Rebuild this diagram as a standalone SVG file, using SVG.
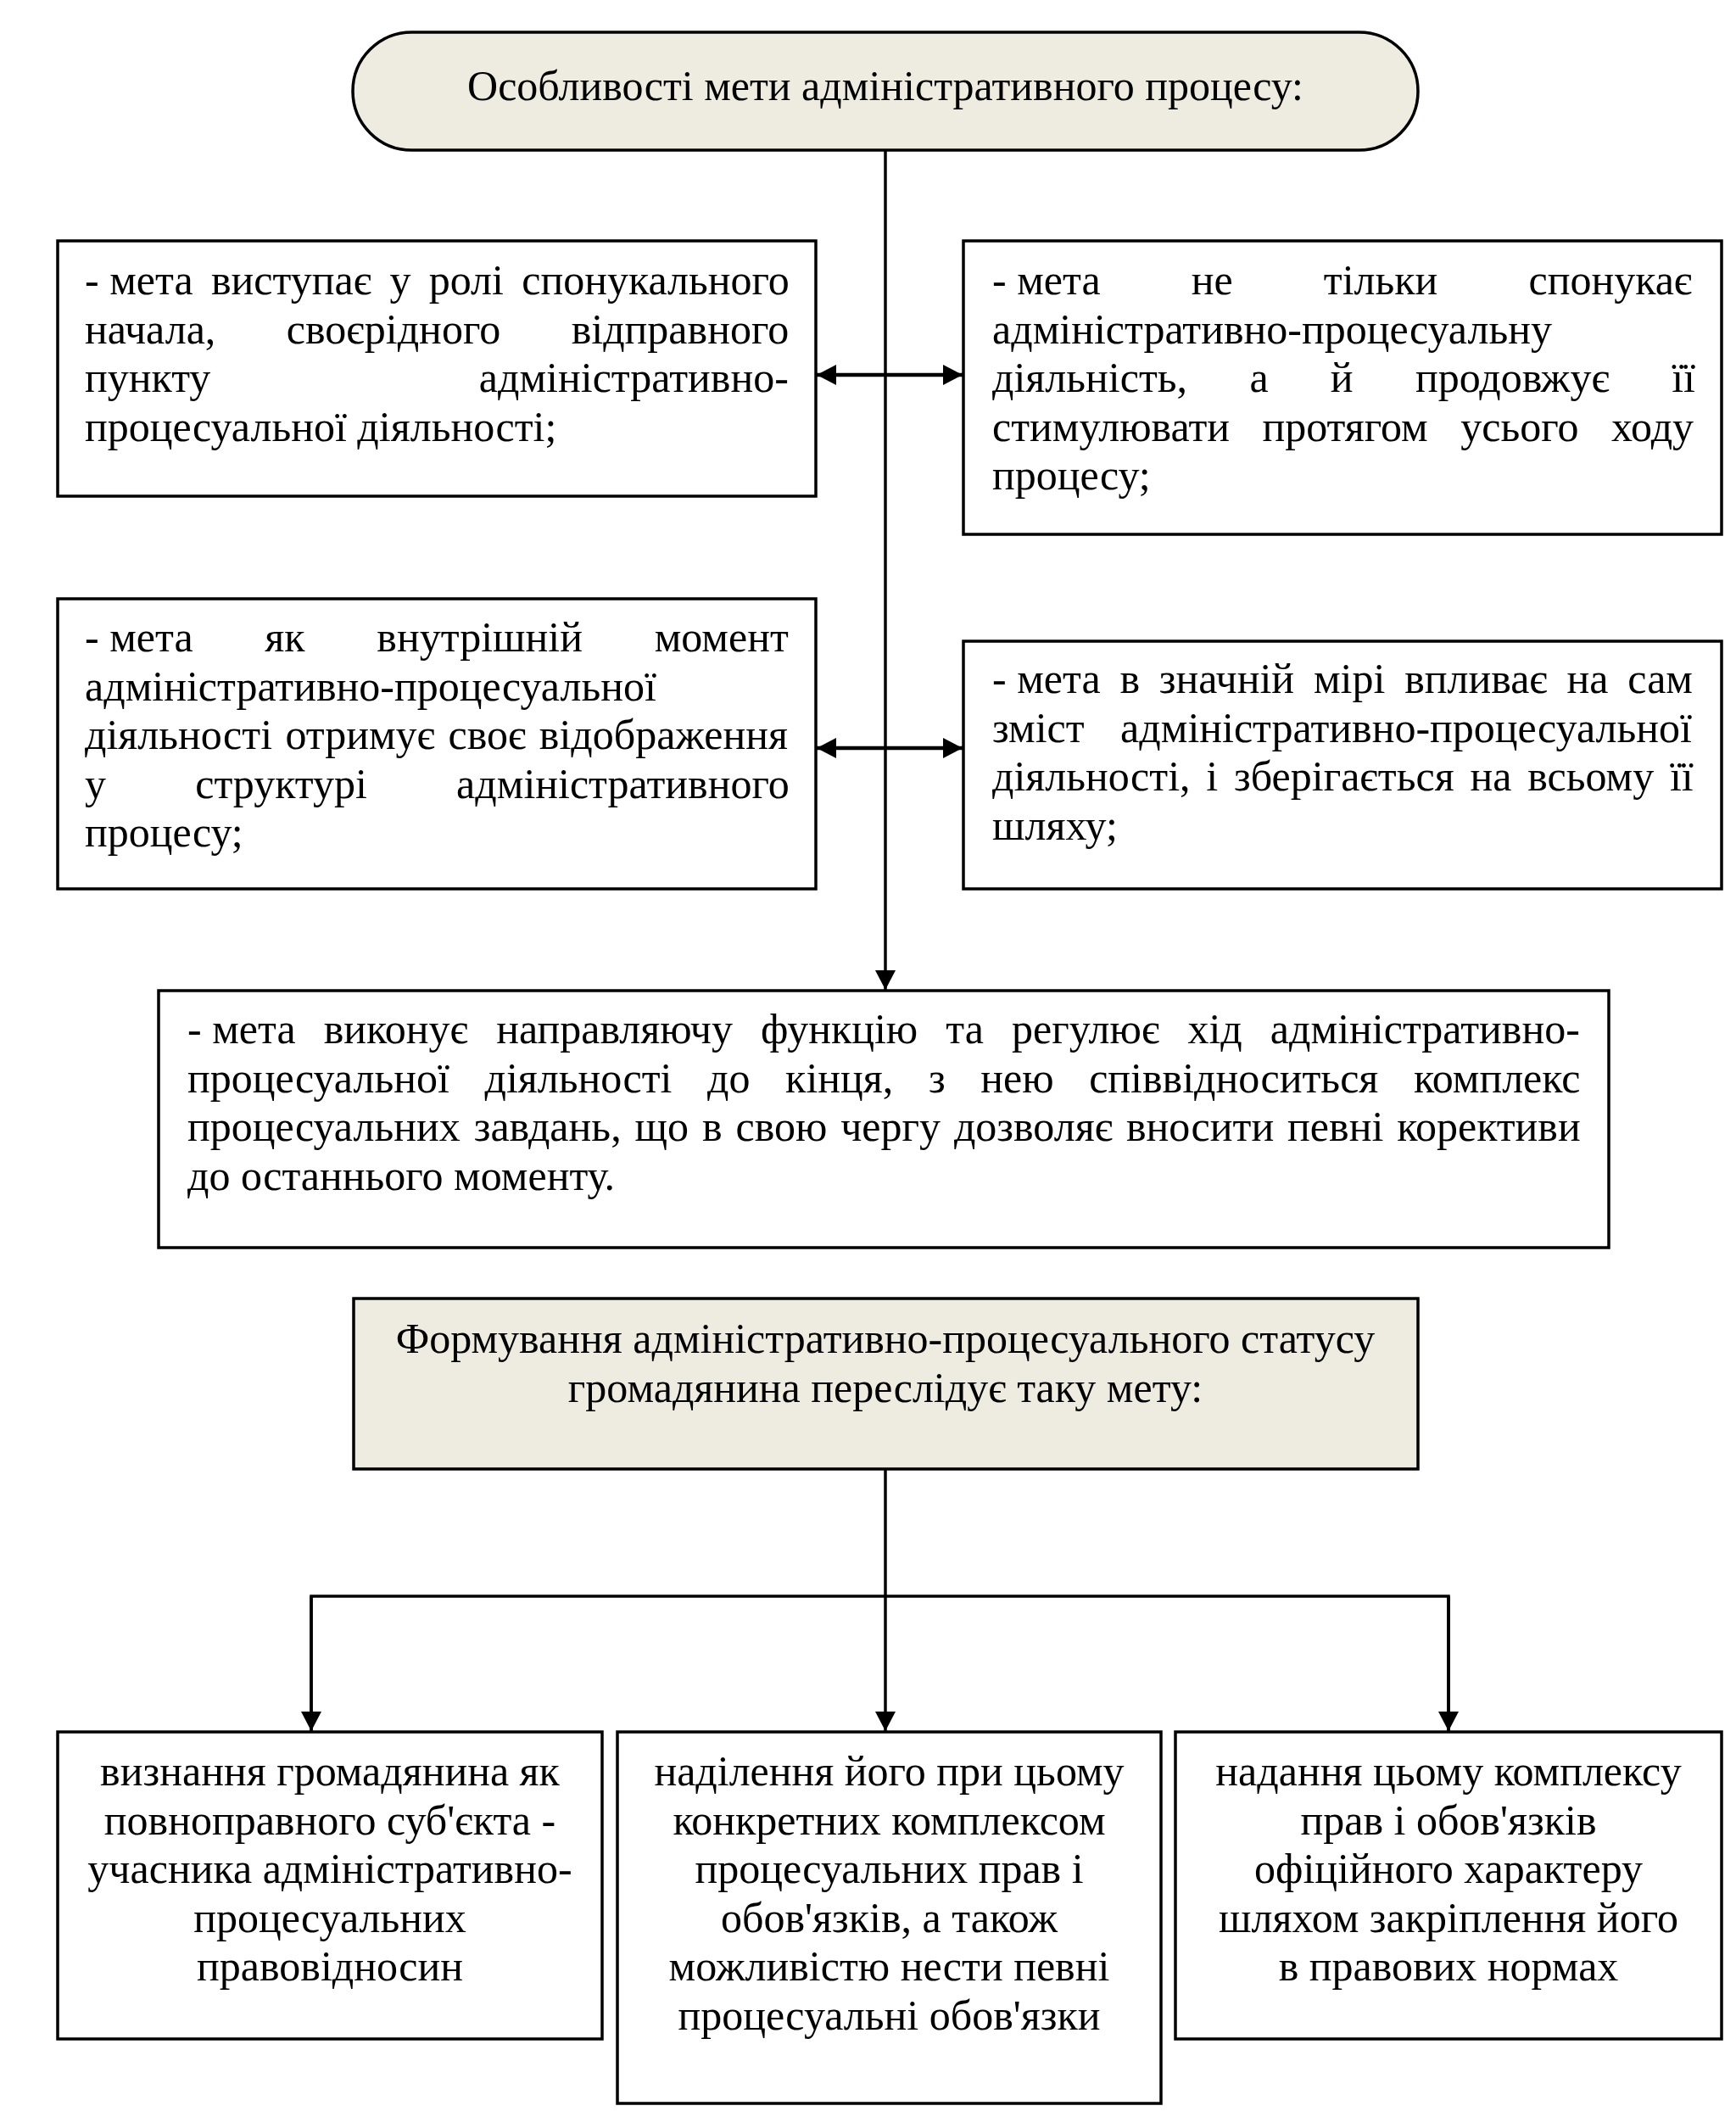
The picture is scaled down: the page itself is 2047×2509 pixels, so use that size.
<svg xmlns="http://www.w3.org/2000/svg" width="2047" height="2509" viewBox="0 0 2047 2509">
<style>
text{font-family:"Liberation Serif","Times New Roman",serif;font-size:50px;fill:#000}
.box{fill:#fff;stroke:#000;stroke-width:3.5}
.beige{fill:#EEECE1;stroke:#000;stroke-width:3.5}
.c{text-anchor:middle}
.ln{fill:none;stroke:#000;stroke-width:3.5}
.ln2{fill:none;stroke:#000;stroke-width:4.5}
.nws{word-spacing:0}
</style>
<defs>
<marker id="ah" viewBox="0 0 23 24" refX="23" refY="12" markerWidth="23" markerHeight="24" markerUnits="userSpaceOnUse" orient="auto-start-reverse">
<path d="M0,0 L23,12 L0,24 Z" fill="#000"/>
</marker>
</defs>
<rect width="2047" height="2509" fill="#fff"/>

<g id="connectors">
<line class="ln" x1="1044" y1="177" x2="1044" y2="1167" marker-end="url(#ah)"/>
<line class="ln2" x1="963" y1="442" x2="1135" y2="442" marker-start="url(#ah)" marker-end="url(#ah)"/>
<line class="ln2" x1="963" y1="882" x2="1135" y2="882" marker-start="url(#ah)" marker-end="url(#ah)"/>
<polyline class="ln" points="1044,1732 1044,1882"/>
<polyline class="ln" points="367,2041 367,1882 1708,1882 1708,2041"/>
<line class="ln" x1="367" y1="1882" x2="367" y2="2041" marker-end="url(#ah)"/>
<line class="ln" x1="1044" y1="1882" x2="1044" y2="2041" marker-end="url(#ah)"/>
<line class="ln" x1="1708" y1="1882" x2="1708" y2="2041" marker-end="url(#ah)"/>
</g>

<g id="title">
<rect class="beige" x="416" y="38" width="1256" height="139" rx="69.5" ry="69.5"/>
<text class="c" x="1044" y="118">Особливості мети адміністративного процесу:</text>
</g>

<g id="box1">
<rect class="box" x="68" y="284" width="894" height="301"/>
<text x="100" y="347" style="word-spacing:8.8px"><tspan class="nws">- </tspan>мета виступає у ролі спонукального</text>
<text x="100" y="404.5" style="word-spacing:71px">начала, своєрідного відправного</text>
<text x="100" y="462" style="word-spacing:304px">пункту адміністративно-</text>
<text x="100" y="519.5">процесуальної діяльності;</text>
</g>

<g id="box2">
<rect class="box" x="1136" y="284" width="894" height="346"/>
<text x="1170" y="347" style="word-spacing:94.6px"><tspan class="nws">- </tspan>мета не тільки спонукає</text>
<text x="1170" y="404.5">адміністративно-процесуальну</text>
<text x="1170" y="462" style="word-spacing:60.8px">діяльність, а й продовжує її</text>
<text x="1170" y="519.5" style="word-spacing:26px">стимулювати протягом усього ходу</text>
<text x="1170" y="577">процесу;</text>
</g>

<g id="box3">
<rect class="box" x="68" y="706" width="894" height="342"/>
<text x="100" y="768" style="word-spacing:72.2px"><tspan class="nws">- </tspan>мета як внутрішній момент</text>
<text x="100" y="825.5">адміністративно-процесуальної</text>
<text x="100" y="883" style="word-spacing:2.9px">діяльності отримує своє відображення</text>
<text x="100" y="940.5" style="word-spacing:92.7px">у структурі адміністративного</text>
<text x="100" y="998">процесу;</text>
</g>

<g id="box4">
<rect class="box" x="1136" y="756" width="894" height="292"/>
<text x="1170" y="817" style="word-spacing:10.3px"><tspan class="nws">- </tspan>мета в значній мірі впливає на сам</text>
<text x="1170" y="874.5" style="word-spacing:30px">зміст адміністративно-процесуальної</text>
<text x="1170" y="932" style="word-spacing:6.3px">діяльності, і зберігається на всьому її</text>
<text x="1170" y="989.5">шляху;</text>
</g>

<g id="box5">
<rect class="box" x="187" y="1168" width="1710" height="303"/>
<text x="221" y="1230" style="word-spacing:20.6px"><tspan class="nws">- </tspan>мета виконує направляючу функцію та регулює хід адміністративно-</text>
<text x="221" y="1287.5" style="word-spacing:29.1px">процесуальної діяльності до кінця, з нею співвідноситься комплекс</text>
<text x="221" y="1345" style="word-spacing:3.4px">процесуальних завдань, що в свою чергу дозволяє вносити певні корективи</text>
<text x="221" y="1402.5">до останнього моменту.</text>
</g>

<g id="box6">
<rect class="beige" x="417" y="1531" width="1255" height="201"/>
<text class="c" x="1044" y="1595">Формування адміністративно-процесуального статусу</text>
<text class="c" x="1044" y="1652.5">громадянина переслідує таку мету:</text>
</g>

<g id="box7">
<rect class="box" x="68" y="2042" width="642" height="362"/>
<text class="c" x="389" y="2105">визнання громадянина як</text>
<text class="c" x="389" y="2162.5">повноправного суб'єкта -</text>
<text class="c" x="389" y="2220">учасника адміністративно-</text>
<text class="c" x="389" y="2277.5">процесуальних</text>
<text class="c" x="389" y="2335">правовідносин</text>
</g>

<g id="box8">
<rect class="box" x="728" y="2042" width="641" height="438"/>
<text class="c" x="1048.5" y="2105">наділення його при цьому</text>
<text class="c" x="1048.5" y="2162.5">конкретних комплексом</text>
<text class="c" x="1048.5" y="2220">процесуальних прав і</text>
<text class="c" x="1048.5" y="2277.5">обов'язків, а також</text>
<text class="c" x="1048.5" y="2335">можливістю нести певні</text>
<text class="c" x="1048.5" y="2392.5">процесуальні обов'язки</text>
</g>

<g id="box9">
<rect class="box" x="1386" y="2042" width="644" height="362"/>
<text class="c" x="1708" y="2105">надання цьому комплексу</text>
<text class="c" x="1708" y="2162.5">прав і обов'язків</text>
<text class="c" x="1708" y="2220">офіційного характеру</text>
<text class="c" x="1708" y="2277.5">шляхом закріплення його</text>
<text class="c" x="1708" y="2335">в правових нормах</text>
</g>
</svg>
